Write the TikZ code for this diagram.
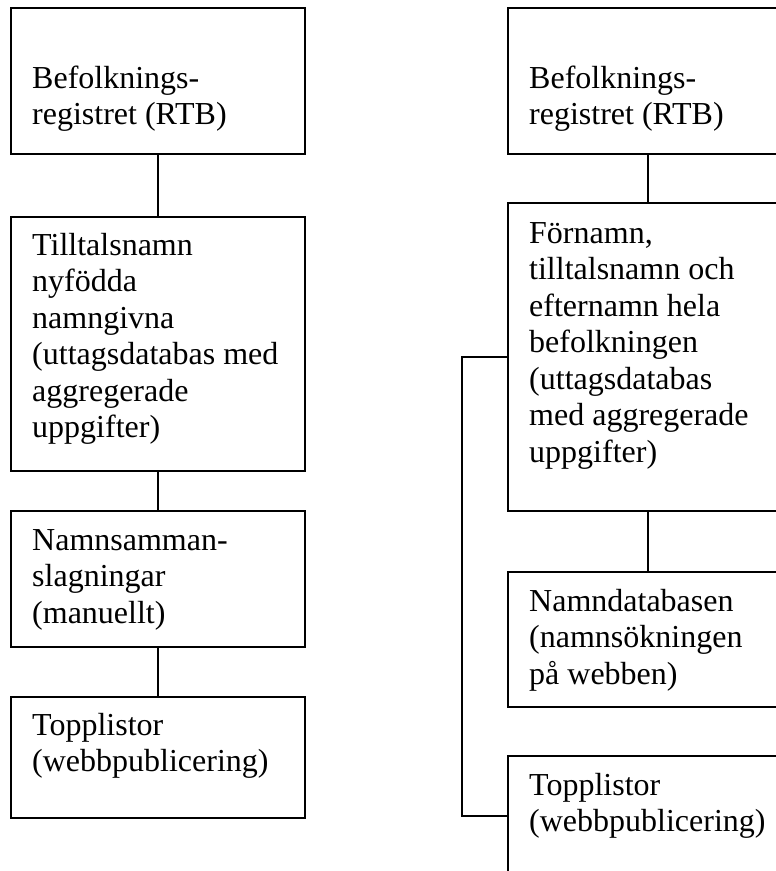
\documentclass[tikz,border=0pt]{standalone}
\usepackage{fontspec}
\setmainfont{Liberation Serif}
\usetikzlibrary{positioning}

\begin{document}
\begin{tikzpicture}
    [x=1pt, y=-1pt,
    box/.style={draw, line width=2pt, minimum width=294pt, inner sep=0pt, outer sep=0pt, anchor=north west},
    rbox/.style={box, minimum width=280pt},
    txt/.style={align=left, inner sep=0pt, anchor=base west},
    link/.style={line width=2pt},
    font=\fontsize{32}{36.5}\selectfont]
    \useasboundingbox (0,0) rectangle (776,871);
    \clip (0,0) rectangle (776,871);
    % left column
    \node[box, minimum height=146pt] (L1) at (11,8)   {};
    \node[box, minimum height=254pt] (L2) at (11,217) {};
    \node[box, minimum height=136pt] (L3) at (11,511) {};
    \node[box, minimum height=121pt] (L4) at (11,697) {};
    % text anchored at the baseline of the last line
    \node[txt] (L1t) at ([shift={(21,116.5)}]L1.north west) {Befolknings-\\registret (RTB)};
    \node[txt] (L2t) at ([shift={(21,220.5)}]L2.north west) {Tilltalsnamn\\nyfödda\\namngivna\\(uttagsdatabas med\\aggregerade\\uppgifter)};
    \node[txt] (L3t) at ([shift={(21,112)}]L3.north west) {Namnsamman-\\slagningar\\(manuellt)};
    \node[txt] (L4t) at ([shift={(21,74.5)}]L4.north west) {Topplistor\\(webbpublicering)};
    \draw[link] (L1) -- (L2);
    \draw[link] (L2) -- (L3);
    \draw[link] (L3) -- (L4);
    % right column
    \node[rbox, minimum height=146pt] (R1) at (508,8)   {};
    \node[rbox, minimum height=308pt] (R2) at (508,203) {};
    \node[rbox, minimum height=135pt] (R3) at (508,572) {};
    \node[rbox, minimum height=120pt] (R4) at (508,756) {};
    \node[txt] (R1t) at ([shift={(21,116.5)}]R1.north west) {Befolknings-\\registret (RTB)};
    \node[txt] (R2t) at ([shift={(21,259)}]R2.north west) {Förnamn,\\tilltalsnamn och\\efternamn hela\\befolkningen\\(uttagsdatabas\\med aggregerade\\uppgifter)};
    \node[txt] (R3t) at ([shift={(21,112)}]R3.north west) {Namndatabasen\\(namnsökningen\\på webben)};
    \node[txt] (R4t) at ([shift={(21,75.5)}]R4.north west) {Topplistor\\(webbpublicering)};
    \draw[link] (R1) -- (R2);
    \draw[link] (R2) -- (R3);
    \draw[link] (R2.west) -- ++(-46,0) |- (R4.west);
\end{tikzpicture}
\end{document}
